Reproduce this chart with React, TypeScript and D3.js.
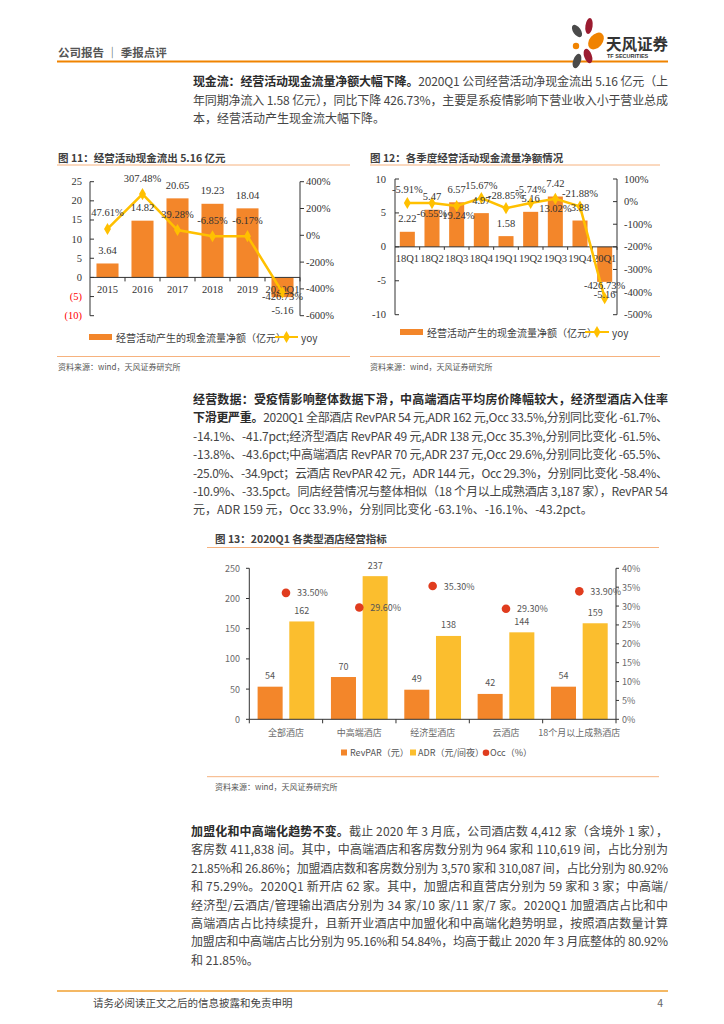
import React from "react";
import * as d3 from "d3";

// ---------- DATA ----------
const years = ["2015", "2016", "2017", "2018", "2019", "2020Q1"];
const cfYear = [3.64, 14.82, 20.65, 19.23, 18.04, -5.16];
const yoyYear = [47.61, 307.48, 39.28, -6.85, -6.17, -426.73];
const yoyYearLabelPos = ["top", "top", "top", "top", "top", "center"];
const leftTicks11 = [25, 20, 15, 10, 5, 0, -5, -10];
const rightTicks11 = [400, 200, 0, -200, -400, -600];

const quarters = ["18Q1", "18Q2", "18Q3", "18Q4", "19Q1", "19Q2", "19Q3", "19Q4", "20Q1"];
const cfQuarter = [2.22, 5.47, 6.57, 4.97, 1.58, 5.16, 7.42, 3.88, -5.16];
const yoyQuarter = [-5.91, -6.55, -19.24, 15.67, -28.85, -5.74, 13.02, -21.88, -426.73];
const yoyQuarterLabelPos = ["top", "bottom", "bottom", "top", "top", "top", "bottom", "top", "top"];
const leftTicks12 = [10, 5, 0, -5, -10];
const rightTicks12 = [100, 0, -100, -200, -300, -400, -500];

const hotelTypes = ["全部酒店", "中高端酒店", "经济型酒店", "云酒店", "18个月以上成熟酒店"];
const revpar = [54, 70, 49, 42, 54];
const adr = [162, 237, 138, 144, 159];
const occ = [33.5, 29.6, 35.3, 29.3, 33.9];
const leftTicks13 = [0, 50, 100, 150, 200, 250];
const rightTicks13 = [0, 5, 10, 15, 20, 25, 30, 35, 40];

// ---------- TEXT ----------
type Seg = { t: string; b?: boolean };
const para1: Seg[][] = [
  [{ t: "现金流：经营活动现金流量净额大幅下降。", b: true }, { t: "2020Q1 公司经营活动净现金流出 5.16 亿元（上" }],
  [{ t: "年同期净流入 1.58 亿元），同比下降 426.73%，主要是系疫情影响下营业收入小于营业总成" }],
  [{ t: "本，经营活动产生现金流大幅下降。" }],
];
const para2: Seg[][] = [
  [{ t: "经营数据：受疫情影响整体数据下滑，中高端酒店平均房价降幅较大，经济型酒店入住率", b: true }],
  [{ t: "下滑更严重。", b: true }, { t: "2020Q1 全部酒店  RevPAR 54 元,ADR 162 元,Occ 33.5%,分别同比变化 -61.7%、" }],
  [{ t: "-14.1%、-41.7pct;经济型酒店  RevPAR 49 元,ADR 138 元,Occ 35.3%,分别同比变化 -61.5%、" }],
  [{ t: "-13.8%、-43.6pct;中高端酒店  RevPAR 70 元,ADR 237 元,Occ 29.6%,分别同比变化 -65.5%、" }],
  [{ t: "-25.0%、-34.9pct；云酒店  RevPAR 42 元，ADR 144 元，Occ 29.3%，分别同比变化 -58.4%、" }],
  [{ t: "-10.9%、-33.5pct。同店经营情况与整体相似（18 个月以上成熟酒店 3,187 家），RevPAR 54" }],
  [{ t: "元，ADR 159 元，Occ 33.9%，分别同比变化 -63.1%、-16.1%、-43.2pct。" }],
];
const para3: Seg[][] = [
  [{ t: "加盟化和中高端化趋势不变。", b: true }, { t: "截止 2020 年 3 月底，公司酒店数 4,412 家（含境外 1 家），" }],
  [{ t: "客房数 411,838 间。其中，中高端酒店和客房数分别为 964 家和 110,619 间，占比分别为" }],
  [{ t: "21.85%和 26.86%；加盟酒店数和客房数分别为 3,570 家和 310,087 间，占比分别为 80.92%" }],
  [{ t: "和 75.29%。2020Q1 新开店 62 家。其中，加盟店和直营店分别为 59 家和 3 家；中高端/" }],
  [{ t: "经济型/云酒店/管理输出酒店分别为 34 家/10 家/11 家/7 家。2020Q1 加盟酒店占比和中" }],
  [{ t: "高端酒店占比持续提升，且新开业酒店中加盟化和中高端化趋势明显，按照酒店数量计算" }],
  [{ t: "加盟店和中高端店占比分别为 95.16%和 54.84%，均高于截止 2020 年 3 月底整体的 80.92%" }],
  [{ t: "和 21.85%。" }],
];

const CJK = "'Noto Sans CJK SC', 'Noto Sans', sans-serif";
const SERIF = "'Liberation Serif', 'DejaVu Serif', serif";
const ORANGE = "#F3862A";
const GOLD = "#FFC000";
const ADRC = "#FBBE2E";
const RED = "#E03C1E";
const LINE_ORANGE = "#F6B27E";

function Para({ lines, x, y0, width, lh }: { lines: Seg[][]; x: number; y0: number; width: number; lh: number }) {
  return (
    <g fontFamily={CJK} fontSize={12} fill="#3d3d3d">
      {lines.map((segs, i) => {
        const justify = i < lines.length - 1;
        return (
          <text
            key={i}
            x={x}
            y={y0 + i * lh}
            dominantBaseline="central"
            {...(justify ? { textLength: width, lengthAdjust: "spacing" } : {})}
          >
            {segs.map((s, j) => (
              <tspan key={j} fontWeight={s.b ? 700 : 400} fill={s.b ? "#2b2b2b" : "#454545"}>
                {s.t}
              </tspan>
            ))}
          </text>
        );
      })}
    </g>
  );
}

const diamond = d3.symbol().type(d3.symbolDiamond).size(42)() as string;

function fmtPct(v: number) {
  return `${v.toFixed(2)}%`;
}

function Chart11() {
  const x = d3.scaleBand<string>().domain(years).range([90, 300]).paddingInner(0.37).paddingOuter(0.185);
  const yL = d3.scaleLinear().domain([-10, 25]).range([315.7, 181.7]);
  const yR = d3.scaleLinear().domain([-600, 400]).range([315.7, 181.7]);
  const cx = (c: string) => (x(c) as number) + x.bandwidth() / 2;
  const line = d3
    .line<number>()
    .x((_, i) => cx(years[i]))
    .y((d) => yR(d));
  const offs: Record<string, number> = { top: -16, bottom: 12, center: 4 };
  return (
    <g>
      <text x={58} y={157} fontFamily={CJK} fontSize={10.5} fontWeight={700} fill="#404040" dominantBaseline="central">
        图 11：经营活动现金流出 5.16 亿元
      </text>
      <line x1={57} x2={350} y1={165} y2={165} stroke={LINE_ORANGE} strokeWidth={1} />
      {cfYear.map((v, i) => (
        <rect
          key={i}
          x={x(years[i])}
          width={x.bandwidth()}
          y={Math.min(yL(v), yL(0))}
          height={Math.abs(yL(v) - yL(0))}
          fill={ORANGE}
        />
      ))}
      <line x1={90} x2={90} y1={yL(25)} y2={yL(-10)} stroke="#333" />
      {leftTicks11.map((t) => (
        <g key={t}>
          <line x1={90} x2={94} y1={yL(t)} y2={yL(t)} stroke="#333" />
          <text
            x={82}
            y={yL(t)}
            textAnchor="end"
            dominantBaseline="central"
            fontFamily={SERIF}
            fontSize={10.5}
            fill={t < 0 ? "#FF0000" : "#333"}
          >
            {t < 0 ? `(${-t})` : t}
          </text>
        </g>
      ))}
      <line x1={300} x2={300} y1={yR(400)} y2={yR(-600)} stroke="#333" />
      {rightTicks11.map((t) => (
        <g key={t}>
          <line x1={300} x2={304} y1={yR(t)} y2={yR(t)} stroke="#333" />
          <text x={306} y={yR(t)} dominantBaseline="central" fontFamily={SERIF} fontSize={10.5} fill="#333">
            {t}%
          </text>
        </g>
      ))}
      <line x1={90} x2={300} y1={yL(0)} y2={yL(0)} stroke="#333" />
      {years.map((c, i) => (
        <g key={c}>
          <line x1={90 + x.step() * (i + 1)} x2={90 + x.step() * (i + 1)} y1={yL(0)} y2={yL(0) + 4} stroke="#333" />
          <text x={cx(c)} y={289} textAnchor="middle" dominantBaseline="central" fontFamily={SERIF} fontSize={10.5} fill="#333">
            {c}
          </text>
        </g>
      ))}
      <path d={line(yoyYear) as string} fill="none" stroke={GOLD} strokeWidth={2.5} />
      {yoyYear.map((v, i) => (
        <path key={i} d={diamond} transform={`translate(${cx(years[i])},${yR(v)})`} fill={GOLD} />
      ))}
      {cfYear.map((v, i) => (
        <text
          key={i}
          x={cx(years[i])}
          y={v >= 0 ? yL(v) - 13 : yL(v) + 13}
          textAnchor="middle"
          dominantBaseline="central"
          fontFamily={SERIF}
          fontSize={10.5}
          fill="#333"
        >
          {v.toFixed(2)}
        </text>
      ))}
      {yoyYear.map((v, i) => (
        <text
          key={i}
          x={cx(years[i])}
          y={yR(v) + offs[yoyYearLabelPos[i]]}
          textAnchor="middle"
          dominantBaseline="central"
          fontFamily={SERIF}
          fontSize={10.5}
          fill="#333"
        >
          {fmtPct(v)}
        </text>
      ))}
      <rect x={89} y={334} width={23} height={6} fill={ORANGE} />
      <text x={116} y={337} dominantBaseline="central" fontFamily={CJK} fontSize={10} fill="#404040">
        经营活动产生的现金流量净额（亿元）
      </text>
      <line x1={275} x2={298} y1={337} y2={337} stroke={GOLD} strokeWidth={2} />
      <path d={diamond} transform="translate(286.5,337)" fill={GOLD} />
      <text x={301} y={337} dominantBaseline="central" fontFamily={CJK} fontSize={10} fill="#404040">
        yoy
      </text>
      <line x1={57} x2={350} y1={356.5} y2={356.5} stroke={LINE_ORANGE} />
      <text x={58} y={366} dominantBaseline="central" fontFamily={CJK} fontSize={8} fill="#555">
        资料来源：wind，天风证券研究所
      </text>
    </g>
  );
}

function Chart12() {
  const x = d3.scaleBand<string>().domain(quarters).range([395, 617]).paddingInner(0.39).paddingOuter(0.195);
  const yL = d3.scaleLinear().domain([-10, 10]).range([314.7, 179]);
  const yR = d3.scaleLinear().domain([-500, 100]).range([314.7, 179]);
  const cx = (c: string) => (x(c) as number) + x.bandwidth() / 2;
  const line = d3
    .line<number>()
    .x((_, i) => cx(quarters[i]))
    .y((d) => yR(d));
  const offs: Record<string, number> = { top: -13, bottom: 10, center: 4 };
  return (
    <g>
      <text x={370} y={157} fontFamily={CJK} fontSize={10.5} fontWeight={700} fill="#404040" dominantBaseline="central">
        图 12：各季度经营活动现金流量净额情况
      </text>
      <line x1={370} x2={660} y1={165} y2={165} stroke={LINE_ORANGE} strokeWidth={1} />
      {cfQuarter.map((v, i) => (
        <rect
          key={i}
          x={x(quarters[i])}
          width={x.bandwidth()}
          y={Math.min(yL(v), yL(0))}
          height={Math.abs(yL(v) - yL(0))}
          fill={ORANGE}
        />
      ))}
      <line x1={395} x2={395} y1={yL(10)} y2={yL(-10)} stroke="#333" />
      {leftTicks12.map((t) => (
        <g key={t}>
          <line x1={395} x2={399} y1={yL(t)} y2={yL(t)} stroke="#333" />
          <text x={386} y={yL(t)} textAnchor="end" dominantBaseline="central" fontFamily={SERIF} fontSize={10.5} fill="#333">
            {t}
          </text>
        </g>
      ))}
      <line x1={617} x2={617} y1={yR(100)} y2={yR(-500)} stroke="#333" />
      {rightTicks12.map((t) => (
        <g key={t}>
          <line x1={613} x2={617} y1={yR(t)} y2={yR(t)} stroke="#333" />
          <text x={624} y={yR(t)} dominantBaseline="central" fontFamily={SERIF} fontSize={10.5} fill="#333">
            {t}%
          </text>
        </g>
      ))}
      <line x1={395} x2={617} y1={yL(0)} y2={yL(0)} stroke="#333" />
      {quarters.map((c, i) => (
        <g key={c}>
          <line x1={395 + x.step() * (i + 1)} x2={395 + x.step() * (i + 1)} y1={yL(0)} y2={yL(0) + 3} stroke="#333" />
          <text x={cx(c)} y={258.5} textAnchor="middle" dominantBaseline="central" fontFamily={SERIF} fontSize={10.5} fill="#333">
            {c}
          </text>
        </g>
      ))}
      <path d={line(yoyQuarter) as string} fill="none" stroke={GOLD} strokeWidth={2.5} />
      {yoyQuarter.map((v, i) => (
        <path key={i} d={diamond} transform={`translate(${cx(quarters[i])},${yR(v)})`} fill={GOLD} />
      ))}
      {cfQuarter.map((v, i) => (
        <text
          key={i}
          x={cx(quarters[i])}
          y={v >= 0 ? yL(v) - 13 : yL(v) + 13}
          textAnchor="middle"
          dominantBaseline="central"
          fontFamily={SERIF}
          fontSize={10.5}
          fill="#333"
        >
          {v.toFixed(2)}
        </text>
      ))}
      {yoyQuarter.map((v, i) => (
        <text
          key={i}
          x={cx(quarters[i])}
          y={yR(v) + offs[yoyQuarterLabelPos[i]]}
          textAnchor="middle"
          dominantBaseline="central"
          fontFamily={SERIF}
          fontSize={10.5}
          fill="#333"
        >
          {fmtPct(v)}
        </text>
      ))}
      <rect x={400} y={329} width={23} height={6} fill={ORANGE} />
      <text x={427} y={332} dominantBaseline="central" fontFamily={CJK} fontSize={10} fill="#404040">
        经营活动产生的现金流量净额（亿元）
      </text>
      <line x1={585} x2={609} y1={332} y2={332} stroke={GOLD} strokeWidth={2} />
      <path d={diamond} transform="translate(597,332)" fill={GOLD} />
      <text x={612} y={332} dominantBaseline="central" fontFamily={CJK} fontSize={10} fill="#404040">
        yoy
      </text>
      <line x1={370} x2={660} y1={356.5} y2={356.5} stroke={LINE_ORANGE} />
      <text x={370} y={366} dominantBaseline="central" fontFamily={CJK} fontSize={8} fill="#555">
        资料来源：wind，天风证券研究所
      </text>
    </g>
  );
}

function Chart13() {
  const x0 = d3.scaleBand<string>().domain(hotelTypes).range([249.3, 616]);
  const x1 = d3.scaleBand<string>().domain(["RevPAR", "ADR"]).range([0, x0.bandwidth()]).paddingInner(0.21).paddingOuter(0.262);
  const yL = d3.scaleLinear().domain([0, 250]).range([719.3, 568.3]);
  const yR = d3.scaleLinear().domain([0, 40]).range([719.3, 568.3]);
  const series = [
    { key: "RevPAR", vals: revpar, color: ORANGE },
    { key: "ADR", vals: adr, color: ADRC },
  ];
  const tickFill = "#6a6a6a";
  return (
    <g>
      <text x={215} y={538} fontFamily={CJK} fontSize={10.5} fontWeight={700} fill="#404040" dominantBaseline="central">
        图 13：2020Q1 各类型酒店经营指标
      </text>
      <line x1={207} x2={659} y1={547.5} y2={547.5} stroke={LINE_ORANGE} />
      {series.map((s) =>
        s.vals.map((v, i) => {
          const bx = (x0(hotelTypes[i]) as number) + (x1(s.key) as number);
          return (
            <g key={s.key + i}>
              <rect x={bx} width={x1.bandwidth()} y={yL(v)} height={yL(0) - yL(v)} fill={s.color} />
              <text
                x={bx + x1.bandwidth() / 2}
                y={yL(v) - 11}
                textAnchor="middle"
                dominantBaseline="central"
                fontFamily={CJK}
                fontSize={9}
                fill="#555"
              >
                {v}
              </text>
            </g>
          );
        })
      )}
      {occ.map((v, i) => {
        const cx = (x0(hotelTypes[i]) as number) + x0.bandwidth() / 2;
        return (
          <g key={i}>
            <circle cx={cx} cy={yR(v)} r={4.3} fill={RED} />
            <text x={cx + 11} y={yR(v)} dominantBaseline="central" fontFamily={CJK} fontSize={9} fill="#555">
              {v.toFixed(2)}%
            </text>
          </g>
        );
      })}
      <line x1={249.3} x2={249.3} y1={yL(250)} y2={yL(0)} stroke="#333" />
      {leftTicks13.map((t) => (
        <g key={t}>
          <line x1={246} x2={249.3} y1={yL(t)} y2={yL(t)} stroke="#333" />
          <text x={240} y={yL(t)} textAnchor="end" dominantBaseline="central" fontFamily={CJK} fontSize={9} fill={tickFill}>
            {t}
          </text>
        </g>
      ))}
      <line x1={616} x2={616} y1={yR(40)} y2={yR(0)} stroke="#333" />
      {rightTicks13.map((t) => (
        <g key={t}>
          <line x1={616} x2={619} y1={yR(t)} y2={yR(t)} stroke="#333" />
          <text x={622} y={yR(t)} dominantBaseline="central" fontFamily={CJK} fontSize={9} fill={tickFill}>
            {t}%
          </text>
        </g>
      ))}
      <line x1={249.3} x2={616} y1={yL(0)} y2={yL(0)} stroke="#333" />
      {hotelTypes.map((c, i) => (
        <g key={c}>
          <line x1={x0(c) as number} x2={x0(c) as number} y1={yL(0)} y2={yL(0) + 4} stroke="#333" />
          <text
            x={(x0(c) as number) + x0.bandwidth() / 2}
            y={732}
            textAnchor="middle"
            dominantBaseline="central"
            fontFamily={CJK}
            fontSize={9}
            fill={tickFill}
          >
            {c}
          </text>
        </g>
      ))}
      <line x1={616} x2={616} y1={yL(0)} y2={yL(0) + 4} stroke="#333" />
      <rect x={341} y={749.5} width={6} height={6} fill={ORANGE} />
      <text x={350} y={752.7} dominantBaseline="central" fontFamily={CJK} fontSize={9} fill="#555">
        RevPAR（元）
      </text>
      <rect x={410} y={749.5} width={6} height={6} fill={ADRC} />
      <text x={418} y={752.7} dominantBaseline="central" fontFamily={CJK} fontSize={9} fill="#555">
        ADR（元/间夜）
      </text>
      <circle cx={486} cy={752.7} r={3.3} fill={RED} />
      <text x={490} y={752.7} dominantBaseline="central" fontFamily={CJK} fontSize={9} fill="#555">
        Occ（%）
      </text>
      <line x1={207} x2={659} y1={776.7} y2={776.7} stroke={LINE_ORANGE} />
      <text x={215} y={786} dominantBaseline="central" fontFamily={CJK} fontSize={8} fill="#555">
        资料来源：wind，天风证券研究所
      </text>
    </g>
  );
}

function Logo() {
  return (
    <g>
      <ellipse cx={577} cy={31} rx={3.8} ry={7} transform="rotate(-35 577 31)" fill="#4a4a4a" />
      <ellipse cx={589} cy={26} rx={3.6} ry={8} transform="rotate(8 589 26)" fill="#9B1B30" />
      <ellipse cx={596} cy={41} rx={6.5} ry={9.5} transform="rotate(40 596 41)" fill="#F08300" />
      <circle cx={576} cy={46} r={3.2} fill="#F08300" />
      <ellipse cx={588} cy={56} rx={3.8} ry={7.5} transform="rotate(-20 588 56)" fill="#9B1B30" />
      <ellipse cx={577} cy={61} rx={3.8} ry={7.5} transform="rotate(20 577 61)" fill="#4a4a4a" />
      <text x={606} y={43} dominantBaseline="central" fontFamily={CJK} fontSize={15.5} fontWeight={700} fill="#333">
        天风证券
      </text>
      <text x={607} y={56} dominantBaseline="central" fontFamily="'Liberation Sans', sans-serif" fontSize={5.5} fontWeight={700} fill="#333">
        TF SECURITIES
      </text>
    </g>
  );
}

export default function App() {
  return (
    <svg
      width={724}
      height={1024}
      viewBox="0 0 724 1024"
      style={{ position: "absolute", left: 0, top: 0, background: "#fff" }}
    >
      <rect width={724} height={1024} fill="#fff" />
      <text x={58} y={52} dominantBaseline="central" fontFamily={CJK} fontSize={11.5} fontWeight={700} fill="#555">
        公司报告 ｜ 季报点评
      </text>
      <line x1={57} x2={668} y1={61.5} y2={61.5} stroke="#F08300" strokeWidth={2} />
      <Logo />
      <Para lines={para1} x={193} y0={80} width={475} lh={18.5} />
      <Chart11 />
      <Chart12 />
      <Para lines={para2} x={193} y0={398} width={475} lh={18.4} />
      <Chart13 />
      <Para lines={para3} x={191} y0={830} width={477} lh={18.4} />
      <line x1={57} x2={668} y1={991} y2={991} stroke="#F0A030" strokeWidth={1.5} />
      <text x={93} y={1002} dominantBaseline="central" fontFamily={CJK} fontSize={10.5} fill="#444">
        请务必阅读正文之后的信息披露和免责申明
      </text>
      <text x={663} y={1002} textAnchor="end" dominantBaseline="central" fontFamily={CJK} fontSize={10.5} fill="#666">
        4
      </text>
    </svg>
  );
}
